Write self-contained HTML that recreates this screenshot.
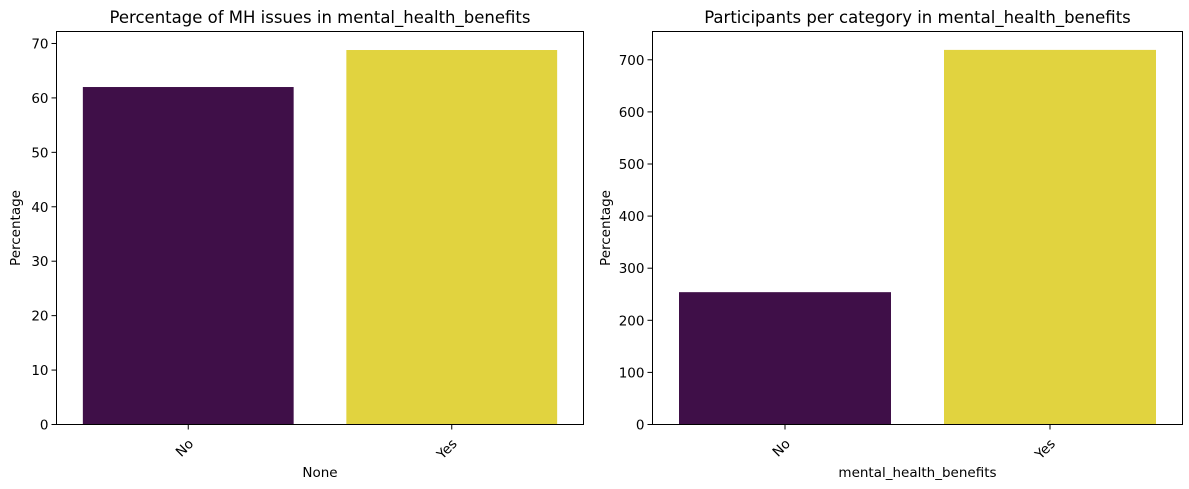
<!DOCTYPE html>
<html><head><meta charset="utf-8"><style>
html,body{margin:0;padding:0;background:#fff;}
svg{display:block;font-family:"DejaVu Sans","Liberation Sans",sans-serif;}
</style></head><body>
<svg id="fig" width="1189" height="489" viewBox="0 0 1189 489" xmlns="http://www.w3.org/2000/svg"></svg>
<script>
const categories = ["No", "Yes"];
const pctValues = [62.0, 68.8];
const countValues = [254, 719];
const pctTicks = [0, 10, 20, 30, 40, 50, 60, 70];
const countTicks = [0, 100, 200, 300, 400, 500, 600, 700];
const barColors = ["#3f0f48", "#e1d33f"];

const NS = "http://www.w3.org/2000/svg";
const svg = document.getElementById("fig");
function mk(tag, attrs, parent) {
  const e = document.createElementNS(NS, tag);
  for (const k in attrs) e.setAttribute(k, attrs[k]);
  (parent || svg).appendChild(e);
  return e;
}
function panel(cfg) {
  const g = mk("g", {});
  
  
  const {x0, x1, y0, y1, ymax} = cfg;
  const xs = i => x0 + (i + 0.5) / categories.length * (x1 - x0);
  const ys = v => y1 - v / ymax * (y1 - y0);
  const bw = 0.8 * (x1 - x0) / categories.length;
  categories.forEach((c, i) => {
    const v = cfg.values[i];
    const r = mk("rect", {x: xs(i) - bw / 2, y: ys(v), width: bw, height: y1 - ys(v), fill: barColors[i]}, g);
    
    
    mk("line", {x1: xs(i), x2: xs(i), y1: y1, y2: y1 + 5, stroke: "#000", "stroke-width": 1}, g);
    const t = mk("text", {x: 0, y: 0, "font-size": "13.5", "text-anchor": "end", transform: `translate(${xs(i) + 6},${y1 + 20}) rotate(-45)`}, g);
    t.textContent = c;
    
    
  });
  cfg.ticks.forEach(tv => {
    const y = ys(tv);
    mk("line", {x1: x0 - 5, x2: x0, y1: y, y2: y, stroke: "#000", "stroke-width": 1}, g);
    const t = mk("text", {x: x0 - 8, y: y + 5, "font-size": "13.5", "text-anchor": "end"}, g);
    t.textContent = tv;
    
    
  });
  const fr = mk("rect", {x: x0, y: y0, width: x1 - x0, height: y1 - y0, fill: "none", stroke: "#000", "stroke-width": 1}, g);
  
  
  const ti = mk("text", {x: (x0 + x1) / 2, y: 23, "font-size": "16.5", "text-anchor": "middle"}, g);
  ti.textContent = cfg.title;
  
  
  const xl = mk("text", {x: (x0 + x1) / 2, y: 477, "font-size": "13.5", "text-anchor": "middle"}, g);
  xl.textContent = cfg.xlabel;
  
  
  const yl = mk("text", {x: 0, y: 0, "font-size": "13.5", "text-anchor": "middle", transform: `translate(${cfg.ylx},${(y0 + y1) / 2}) rotate(-90)`}, g);
  yl.textContent = "Percentage";
  
  
}
panel({name: "percentage-chart", x0: 56.5, x1: 583.5, y0: 31.5, y1: 424.5, ymax: 72.2, values: pctValues, ticks: pctTicks,
  title: "Percentage of MH issues in mental_health_benefits", xlabel: "None", ylx: 20});
panel({name: "participants-chart", x0: 652.5, x1: 1182.5, y0: 31.5, y1: 424.5, ymax: 754.3, values: countValues, ticks: countTicks,
  title: "Participants per category in mental_health_benefits", xlabel: "mental_health_benefits", ylx: 610});
</script>
</body></html>
